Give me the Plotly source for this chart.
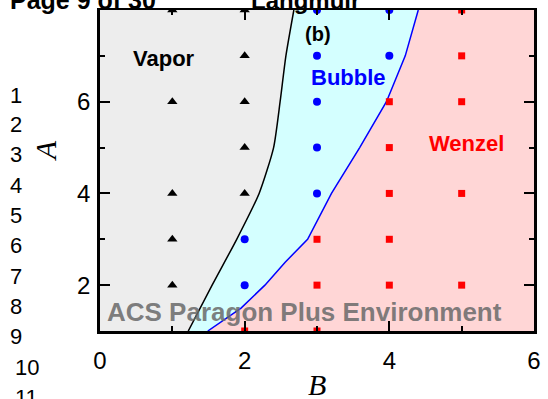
import plotly.graph_objects as go

# ---- data ----
vapor_B = [1, 1, 1, 1, 1, 2, 2, 2, 2, 2]
vapor_A = [8, 6, 4, 3, 2, 8, 7, 6, 5, 4]
bubble_B = [2, 2, 3, 3, 3, 3, 3, 4, 4]
bubble_A = [3, 2, 8, 7, 6, 5, 4, 8, 7]
wenzel_B = [2, 3, 3, 3, 4, 4, 4, 4, 4, 5, 5, 5, 5, 5]
wenzel_A = [1, 3, 2, 1, 6, 5, 4, 3, 2, 8, 7, 6, 4, 2]

# phase boundaries
black_A = [1, 2, 3, 4, 5, 6, 7, 8]
black_B = [1.22, 1.55, 1.89, 2.20, 2.40, 2.49, 2.57, 2.68]
blue_A = [1, 1.5, 2, 2.5, 3, 4, 5, 6, 7, 8]
blue_B = [1.49, 1.95, 2.28, 2.56, 2.87, 3.20, 3.59, 3.96, 4.22, 4.40]

x_range = [0, 6]
y_range = [1, 8]

line_numbers = ["1", "2", "3", "4", "5", "6", "7", "8", "9", "10", "11"]
line_number_y = [93, 123, 153, 184, 214, 245, 276, 306, 337, 368, 398]

# ---- geometry helpers (pixel -> paper) ----
L, R, T, Bm = 100, 10, 7, 68
W, H = 548, 399
pw, ph = W - L - R, H - T - Bm


def px(x):
    return (x - L) / pw


def py(y):
    return (H - Bm - y) / ph


fig = go.Figure()

# region fills
fig.add_trace(go.Scatter(
    x=[x_range[0]] + black_B + [x_range[0]],
    y=[y_range[0]] + black_A + [y_range[1]],
    fill="toself", fillcolor="#EDEDED", line=dict(width=0), mode="lines",
    hoverinfo="skip", showlegend=False))
fig.add_trace(go.Scatter(
    x=black_B + blue_B[::-1],
    y=black_A + blue_A[::-1],
    fill="toself", fillcolor="#D4FFFF", line=dict(width=0), mode="lines",
    hoverinfo="skip", showlegend=False))
fig.add_trace(go.Scatter(
    x=blue_B + [x_range[1], x_range[1]],
    y=blue_A + [y_range[1], y_range[0]],
    fill="toself", fillcolor="#FFD6D6", line=dict(width=0), mode="lines",
    hoverinfo="skip", showlegend=False))

# boundary lines
fig.add_trace(go.Scatter(x=black_B, y=black_A, mode="lines",
                         line=dict(color="black", width=1.5, shape="spline", smoothing=0.6),
                         showlegend=False))
fig.add_trace(go.Scatter(x=blue_B, y=blue_A, mode="lines",
                         line=dict(color="#0000FF", width=1.5), showlegend=False))

# markers
fig.add_trace(go.Scatter(x=vapor_B, y=vapor_A, mode="markers",
                         marker=dict(symbol="triangle-up", size=9, color="black"),
                         showlegend=False))
fig.add_trace(go.Scatter(x=bubble_B, y=bubble_A, mode="markers",
                         marker=dict(symbol="circle", size=8, color="#0000FF"),
                         showlegend=False))
fig.add_trace(go.Scatter(x=wenzel_B, y=wenzel_A, mode="markers",
                         marker=dict(symbol="square", size=7, color="#FF0000"),
                         showlegend=False))

axis_common = dict(
    showline=True, linewidth=2.5, linecolor="black", mirror="allticks",
    ticks="inside", ticklen=10, tickwidth=2, tickcolor="black",
    showgrid=False, zeroline=False,
    tickfont=dict(family="Liberation Sans", size=24, color="black"),
    minor=dict(dtick=1, ticks="inside", ticklen=5, tickwidth=2, tickcolor="black",
               showgrid=False),
)
fig.update_xaxes(range=x_range, dtick=2, tick0=0, ticklabelstandoff=6, **axis_common)
fig.update_yaxes(range=y_range, dtick=2, tick0=0, ticklabelstandoff=2, **axis_common)

ann = []
# region labels
ann.append(dict(x=0.89, y=6.94, xref="x", yref="y", text="<b>Vapor</b>", showarrow=False,
                font=dict(family="Liberation Sans", size=22, color="black")))
ann.append(dict(x=3.02, y=7.48, xref="x", yref="y", text="<b>(b)</b>", showarrow=False,
                font=dict(family="Liberation Sans", size=20, color="black")))
ann.append(dict(x=3.43, y=6.53, xref="x", yref="y", text="<b>Bubble</b>", showarrow=False,
                font=dict(family="Liberation Sans", size=22, color="#0000FF")))
ann.append(dict(x=5.06, y=5.08, xref="x", yref="y", text="<b>Wenzel</b>", showarrow=False,
                font=dict(family="Liberation Sans", size=22, color="#FF0000")))
# axis titles
ann.append(dict(x=px(45), y=py(149), xref="paper", yref="paper", text="<i>A</i>",
                textangle=-90, showarrow=False, xanchor="center", yanchor="middle",
                font=dict(family="Liberation Serif", size=30, color="black")))
ann.append(dict(x=px(319), y=py(385), xref="paper", yref="paper", text="<i>B</i>",
                showarrow=False, xanchor="center", yanchor="middle",
                font=dict(family="Liberation Serif", size=30, color="black")))
# page artefacts
ann.append(dict(x=px(306), y=py(312), xref="paper", yref="paper",
                text="<b>ACS Paragon Plus Environment</b>", showarrow=False,
                xanchor="center", yanchor="middle",
                font=dict(family="Liberation Sans", size=26, color="rgba(105,105,105,0.85)")))
for t, yy in zip(line_numbers, line_number_y):
    ann.append(dict(x=px(7 if len(t) == 1 else 12), y=py(yy), xref="paper", yref="paper",
                    text=t, showarrow=False, xanchor="left", yanchor="middle",
                    font=dict(family="Liberation Sans", size=22, color="black")))
ann.append(dict(x=px(7), y=py(13), xref="paper", yref="paper", text="<b>Page 9 of 30</b>",
                showarrow=False, xanchor="left", yanchor="bottom",
                font=dict(family="Liberation Sans", size=25, color="black")))
ann.append(dict(x=px(250), y=py(13), xref="paper", yref="paper", text="<b>Langmuir</b>",
                showarrow=False, xanchor="left", yanchor="bottom",
                font=dict(family="Liberation Sans", size=24, color="black")))

fig.update_layout(
    width=W, height=H,
    margin=dict(l=L, r=R, t=T, b=Bm, pad=0),
    paper_bgcolor="white", plot_bgcolor="white",
    annotations=ann,
    shapes=[dict(type="rect", xref="paper", yref="paper", x0=px(0), x1=px(W),
                 y0=py(5), y1=py(-5), fillcolor="white", line=dict(width=0),
                 layer="above")],
)

fig.write_html("out.html", config={"displayModeBar": False},
               post_script="document.body.style.margin='0';document.body.style.overflow='hidden';")
